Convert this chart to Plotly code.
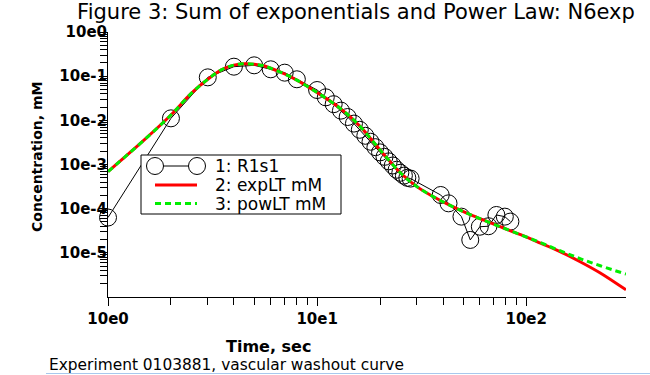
import math
import plotly.graph_objects as go

# ---------------- data ----------------
obs_time = [1, 2, 3, 4, 5, 6, 7, 8,
            10, 11, 12, 13, 14, 15, 16, 17, 18, 19, 20, 21, 22, 23, 24, 25, 26, 27, 28,
            39, 42.5, 49, 54, 60, 66, 72, 79, 84]
obs_conc = [6.3e-5, 0.0111, 0.094, 0.164, 0.176, 0.143, 0.120, 0.085,
            0.0486, 0.0332, 0.0232, 0.0166, 0.0119, 0.00844, 0.00611, 0.00447, 0.00328,
            0.00247, 0.00188, 0.00149, 0.00118, 9.5e-4, 7.6e-4, 6.5e-4, 5.6e-4, 5.0e-4, 4.8e-4,
            2.04e-4, 1.32e-4, 6.6e-5, 1.96e-5, 3.9e-5, 4.0e-5, 7.2e-5, 6.6e-5, 5.1e-5]

fit_time = [1, 1.5, 2, 2.5, 3, 3.5, 4, 4.5, 5, 5.5, 6, 7, 8, 10, 13, 16, 20, 25, 30,
            36, 43, 52, 62, 75, 94, 117, 145, 181, 226, 300]
exp_conc = [6.9e-4, 3.7e-3, 1.32e-2, 4.07e-2, 8.5e-2, 0.141, 0.178, 0.191, 0.186, 0.174,
            0.151, 0.112, 0.0813, 0.0427, 0.0182, 7.4e-3, 2.14e-3, 6.5e-4, 3.16e-4,
            1.86e-4, 1.20e-4, 7.9e-5, 5.6e-5, 3.9e-5, 2.57e-5, 1.66e-5, 1.07e-5, 6.3e-6,
            3.5e-6, 1.45e-6]
pow_conc = [6.9e-4, 3.7e-3, 1.32e-2, 4.07e-2, 8.5e-2, 0.141, 0.178, 0.191, 0.186, 0.174,
            0.151, 0.112, 0.0813, 0.0427, 0.0182, 7.4e-3, 2.14e-3, 6.5e-4, 3.16e-4,
            1.86e-4, 1.20e-4, 7.9e-5, 5.6e-5, 3.9e-5, 2.57e-5, 1.70e-5, 1.12e-5, 7.4e-6,
            5.1e-6, 3.3e-6]

x_tick_vals = [1, 10, 100]
x_tick_text = ["10e0", "10e1", "10e2"]
y_tick_vals = [1, 0.1, 0.01, 0.001, 1e-4, 1e-5]
y_tick_text = ["10e0", "10e-1", "10e-2", "10e-3", "10e-4", "10e-5"]

series_names = ["1: R1s1", "2: expLT mM", "3: powLT mM"]

# ---------------- layout geometry (window pixels; body margin removed) ----------------
W, H = 650, 375
PLOT_L, PLOT_R, PLOT_T, PLOT_B = 108, 626, 32, 297
L, R, T, B = PLOT_L, W - PLOT_R, PLOT_T, H - PLOT_B
PW, PH = PLOT_R - PLOT_L, PLOT_B - PLOT_T


def px_x(px):
    return (px - PLOT_L) / PW


def px_y(py):
    return (PLOT_B - py) / PH


x_minor = [m * 10 ** d for d in range(0, 2) for m in range(2, 10)]
y_minor = [m * 10.0 ** d for d in range(-6, 0) for m in range(2, 10)]

FONT = "DejaVu Sans"
RED = "#ff0000"
GREEN = "#00ee00"

fig = go.Figure()
fig.add_trace(go.Scatter(
    x=obs_time, y=obs_conc, name=series_names[0], mode="lines+markers",
    line=dict(color="black", width=1),
    marker=dict(symbol="circle-open", size=17, color="black", line=dict(width=1)),
    cliponaxis=False, showlegend=False,
))
fig.add_trace(go.Scatter(
    x=fit_time, y=exp_conc, name=series_names[1], mode="lines",
    line=dict(color=RED, width=3, shape="spline"), showlegend=False,
))
fig.add_trace(go.Scatter(
    x=fit_time, y=pow_conc, name=series_names[2], mode="lines",
    line=dict(color=GREEN, width=3, dash="6px,4px", shape="spline"), showlegend=False,
))

axis_common = dict(
    type="log", showgrid=False, zeroline=False, showline=True, linecolor="black",
    linewidth=1, ticks="outside", ticklen=8, tickwidth=1, tickcolor="black",
    tickfont=dict(family=FONT, size=15, color="black", weight="bold"), mirror=False,
)

fig.update_xaxes(
    **axis_common, range=[0, math.log10(300)], tickmode="array",
    tickvals=x_tick_vals, ticktext=x_tick_text,
    minor=dict(tickmode="array", tickvals=x_minor, ticks="outside", ticklen=7,
               tickcolor="black", showgrid=False),
)
fig.update_yaxes(
    **axis_common, range=[-6, 0], tickmode="array",
    tickvals=y_tick_vals, ticktext=y_tick_text, ticklabelstandoff=-11,
    minor=dict(tickmode="array", tickvals=y_minor, ticks="outside", ticklen=7,
               tickcolor="black", showgrid=False),
)

# ---------------- hand-drawn legend box (paper coords) ----------------
LG_L, LG_R, LG_T, LG_B = 141, 341, 155, 214
rows_y = [166, 185, 203.5]
sym_x0, sym_x1, text_x = 155, 197, 213

shapes = [
    dict(type="rect", xref="paper", yref="paper", x0=px_x(LG_L), x1=px_x(LG_R),
         y0=px_y(LG_B), y1=px_y(LG_T), line=dict(color="black", width=1),
         fillcolor="white", layer="above"),
    dict(type="line", xref="paper", yref="paper", x0=px_x(sym_x0), x1=px_x(sym_x1),
         y0=px_y(rows_y[0]), y1=px_y(rows_y[0]), line=dict(color="black", width=1),
         layer="above"),
    dict(type="line", xref="paper", yref="paper", x0=px_x(sym_x0), x1=px_x(sym_x1),
         y0=px_y(rows_y[1]), y1=px_y(rows_y[1]), line=dict(color=RED, width=3),
         layer="above"),
    dict(type="line", xref="paper", yref="paper", x0=px_x(sym_x0), x1=px_x(sym_x1),
         y0=px_y(rows_y[2]), y1=px_y(rows_y[2]),
         line=dict(color=GREEN, width=3, dash="6px,4px"), layer="above"),
]
for cx in (sym_x0, sym_x1):
    shapes.append(dict(type="circle", xref="paper", yref="paper",
                       xsizemode="pixel", ysizemode="pixel",
                       xanchor=px_x(cx), yanchor=px_y(rows_y[0]),
                       x0=-8.5, x1=8.5, y0=-8.5, y1=8.5,
                       line=dict(color="black", width=1), fillcolor="white",
                       layer="above"))
# bottom light-blue rule
shapes.append(dict(type="line", xref="paper", yref="paper",
                   x0=px_x(46), x1=px_x(650), y0=px_y(373.5), y1=px_y(373.5),
                   line=dict(color="#a8c8ec", width=1)))

annotations = [
    dict(text=name, xref="paper", yref="paper", x=px_x(text_x), y=px_y(ry),
         xanchor="left", yanchor="middle", showarrow=False,
         font=dict(family=FONT, size=17, color="black"))
    for name, ry in zip(series_names, rows_y)
]
annotations += [
    dict(text="<b>Time, sec</b>", xref="paper", yref="paper",
         x=px_x(268), y=px_y(346), xanchor="center", yanchor="middle",
         showarrow=False, font=dict(family=FONT, size=16, color="black")),
    dict(text="<b>Concentration, mM</b>", xref="paper", yref="paper",
         x=px_x(37), y=px_y(157), xanchor="center", yanchor="middle",
         textangle=-90, showarrow=False,
         font=dict(family=FONT, size=14, color="black")),
    dict(text="Experiment 0103881, vascular washout curve", xref="paper", yref="paper",
         x=px_x(47), y=px_y(365), xanchor="left", yanchor="middle",
         showarrow=False, font=dict(family=FONT, size=15.4, color="black")),
]

fig.update_layout(
    width=W, height=H, margin=dict(l=L, r=R, t=T, b=B, autoexpand=False),
    paper_bgcolor="white", plot_bgcolor="white",
    font=dict(family=FONT, color="black"),
    title=dict(text="Figure 3: Sum of exponentials and Power Law: N6exp",
               font=dict(family=FONT, size=21, color="black"),
               x=356 / W, xanchor="center", xref="container",
               y=1 - 12 / H, yanchor="middle", yref="container"),
    showlegend=False,
    annotations=annotations,
    shapes=shapes,
)

fig.write_html(
    "out.html",
    config={"displayModeBar": False},
    post_script="document.body.style.margin='0';document.body.style.overflow='hidden';",
)
